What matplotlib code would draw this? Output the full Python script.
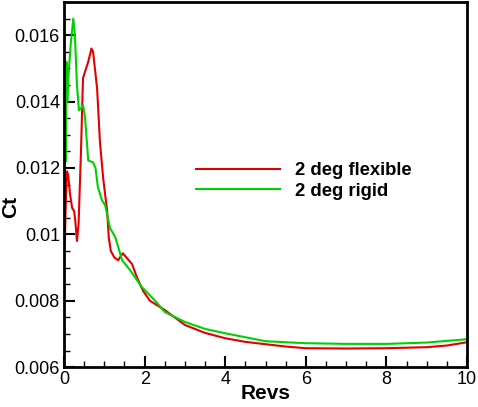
import matplotlib
matplotlib.use("Agg")
import matplotlib.pyplot as plt
from matplotlib.ticker import MultipleLocator

plt.rcParams["font.family"] = ["Liberation Sans", "DejaVu Sans"]

# values
flex_revs = [0.0, 0.02, 0.04, 0.07, 0.10, 0.15, 0.20, 0.25, 0.28, 0.32, 0.36, 0.42,
             0.47, 0.52, 0.60, 0.68, 0.72, 0.82, 0.89, 0.97, 1.07, 1.11, 1.16, 1.25,
             1.34, 1.46, 1.55, 1.69, 1.81, 1.96, 2.13, 2.5, 3.0, 3.5, 4.0, 4.5, 5.0,
             5.5, 6.0, 7.0, 8.0, 9.0, 9.5, 10.0]
flex_ct = [0.0104, 0.0098, 0.0108, 0.0119, 0.0118, 0.0112, 0.0108, 0.0107, 0.0104,
           0.0098, 0.0103, 0.0125, 0.0147, 0.0149, 0.0152, 0.0156, 0.0155, 0.0144,
           0.0128, 0.0117, 0.0107, 0.0099, 0.0095, 0.0093, 0.00922, 0.00943, 0.0093,
           0.0091, 0.0087, 0.0083, 0.0080, 0.00772, 0.00727, 0.00703, 0.00687,
           0.00676, 0.00669, 0.00662, 0.00657, 0.00656, 0.00657, 0.0066, 0.00665,
           0.00675]

rigid_revs = [0.0, 0.01, 0.02, 0.03, 0.045, 0.06, 0.08, 0.10, 0.17, 0.23, 0.27, 0.32,
              0.37, 0.42, 0.47, 0.52, 0.60, 0.65, 0.72, 0.78, 0.84, 0.94, 1.02, 1.14,
              1.27, 1.44, 1.64, 1.93, 2.26, 2.5, 3.0, 3.5, 4.0, 5.0, 6.0, 7.0, 8.0,
              9.0, 10.0]
rigid_ct = [0.0108, 0.0152, 0.0110, 0.0150, 0.0122, 0.0152, 0.0140, 0.0146, 0.0158,
            0.0165, 0.0160, 0.0145, 0.01374, 0.0138, 0.0139, 0.01353, 0.01223,
            0.0122, 0.01217, 0.0120, 0.01142, 0.01103, 0.01088, 0.01019, 0.00992,
            0.00922, 0.00892, 0.00841, 0.0080, 0.00766, 0.00736, 0.00715, 0.00702,
            0.00678, 0.00672, 0.0067, 0.0067, 0.00674, 0.00684]

fig = plt.figure(figsize=(4.78, 4.07), dpi=100)
ax = fig.add_axes([0.134, 0.098, 0.843, 0.897])

ax.plot(flex_revs, flex_ct, color="#e00000", lw=1.5, label="2 deg flexible")
ax.plot(rigid_revs, rigid_ct, color="#00d000", lw=1.5, label="2 deg rigid")

ax.set_xlim(0, 10)
ax.set_ylim(0.006, 0.017)
ax.xaxis.set_major_locator(MultipleLocator(2))
ax.xaxis.set_minor_locator(MultipleLocator(0.5))
ax.yaxis.set_major_locator(MultipleLocator(0.002))
ax.yaxis.set_minor_locator(MultipleLocator(0.0005))
ax.set_yticks([0.006, 0.008, 0.01, 0.012, 0.014, 0.016])
ax.set_yticklabels(["0.006", "0.008", "0.01", "0.012", "0.014", "0.016"])
ax.set_xticks([0, 2, 4, 6, 8, 10])
ax.set_xticklabels(["0", "2", "4", "6", "8", "10"])

ax.tick_params(which="major", direction="in", length=8, width=1.5, labelsize=13, pad=3)
ax.tick_params(which="minor", direction="in", length=4, width=1)
for s in ax.spines.values():
    s.set_linewidth(2)

ax.set_xlabel("Revs", fontsize=15, fontweight="bold")
ax.set_ylabel("Ct", fontsize=15, fontweight="bold")
ax.xaxis.set_label_coords(0.5, -0.045)
ax.yaxis.set_label_coords(-0.108, 0.44)

ax.legend(loc="center left", bbox_to_anchor=(0.285, 0.51), frameon=False,
          handlelength=4.6, handletextpad=0.8, labelspacing=0.2,
          prop={"weight": "bold", "size": 13.3})

fig.savefig("out.png", dpi=100)
